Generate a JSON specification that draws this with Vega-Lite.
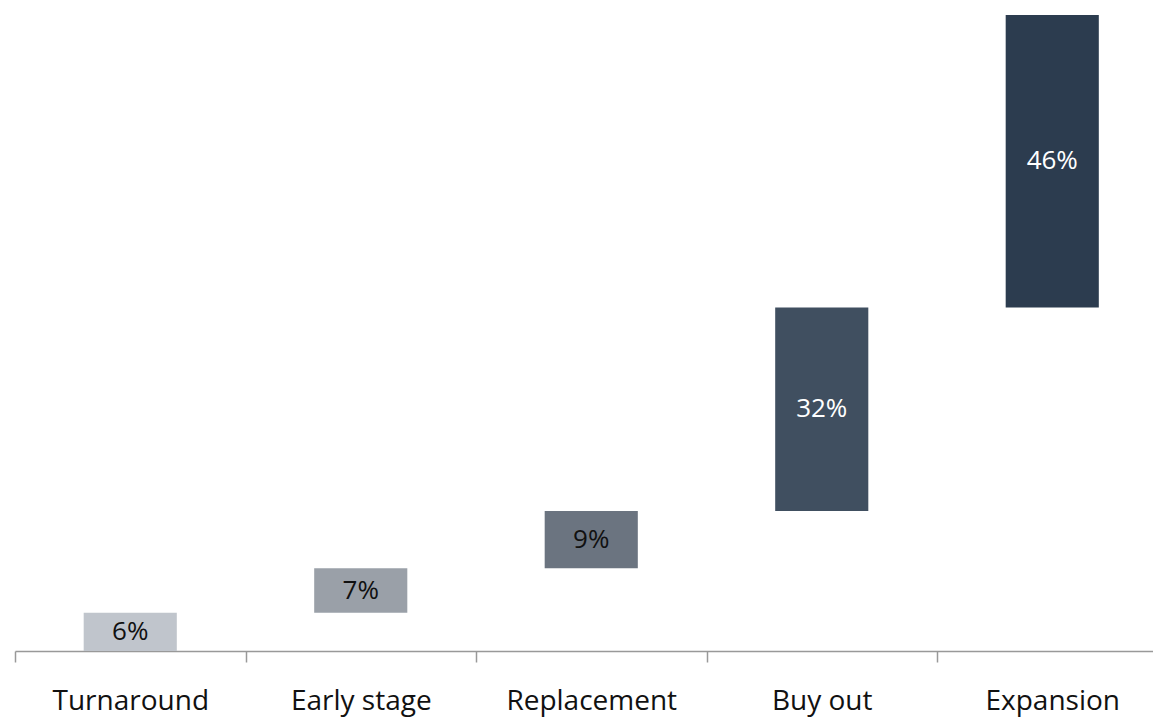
{
  "$schema": "https://vega.github.io/schema/vega-lite/v6.json",
  "width": 1138,
  "height": 636,
  "autosize": {"type": "none"},
  "padding": {"left": 15, "top": 15, "right": 0, "bottom": 69},
  "background": "white",
  "config": {"view": {"stroke": null}, "font": "Open Sans"},
  "data": {
    "values": [
      {"category": "Turnaround", "value": 6, "start": 0, "end": 6, "label": "6%"},
      {"category": "Early stage", "value": 7, "start": 6, "end": 13, "label": "7%"},
      {"category": "Replacement", "value": 9, "start": 13, "end": 22, "label": "9%"},
      {"category": "Buy out", "value": 32, "start": 22, "end": 54, "label": "32%"},
      {"category": "Expansion", "value": 46, "start": 54, "end": 100, "label": "46%"}
    ]
  },
  "transform": [{"calculate": "(datum.start + datum.end) / 2", "as": "mid"}],
  "encoding": {
    "x": {
      "field": "category",
      "type": "nominal",
      "sort": null,
      "scale": {"range": [0, 1152.5], "paddingInner": 0, "paddingOuter": 0},
      "axis": {
        "title": null,
        "labelAngle": 0,
        "labelFontSize": 28,
        "labelColor": "#111111",
        "labelPadding": 25,
        "domainColor": "#999999",
        "domainWidth": 1.5,
        "tickColor": "#999999",
        "tickWidth": 1.5,
        "tickSize": 11,
        "tickBand": "extent",
        "grid": false
      }
    }
  },
  "layer": [
    {
      "mark": {"type": "bar", "width": {"band": 0.404}},
      "encoding": {
        "y": {"field": "start", "type": "quantitative", "scale": {"domain": [0, 100], "nice": false, "zero": true}, "axis": null},
        "y2": {"field": "end"},
        "color": {
          "field": "category",
          "type": "nominal",
          "scale": {
            "domain": ["Turnaround", "Early stage", "Replacement", "Buy out", "Expansion"],
            "range": ["#c0c5cc", "#9aa0a8", "#6b7480", "#404f60", "#2c3c4f"]
          },
          "legend": null
        }
      }
    },
    {
      "mark": {"type": "text", "fontSize": 26, "baseline": "middle", "align": "center"},
      "encoding": {
        "y": {"field": "mid", "type": "quantitative"},
        "text": {"field": "label"},
        "color": {
          "condition": {"test": "datum.value > 20", "value": "#ffffff"},
          "value": "#111111"
        }
      }
    }
  ]
}
